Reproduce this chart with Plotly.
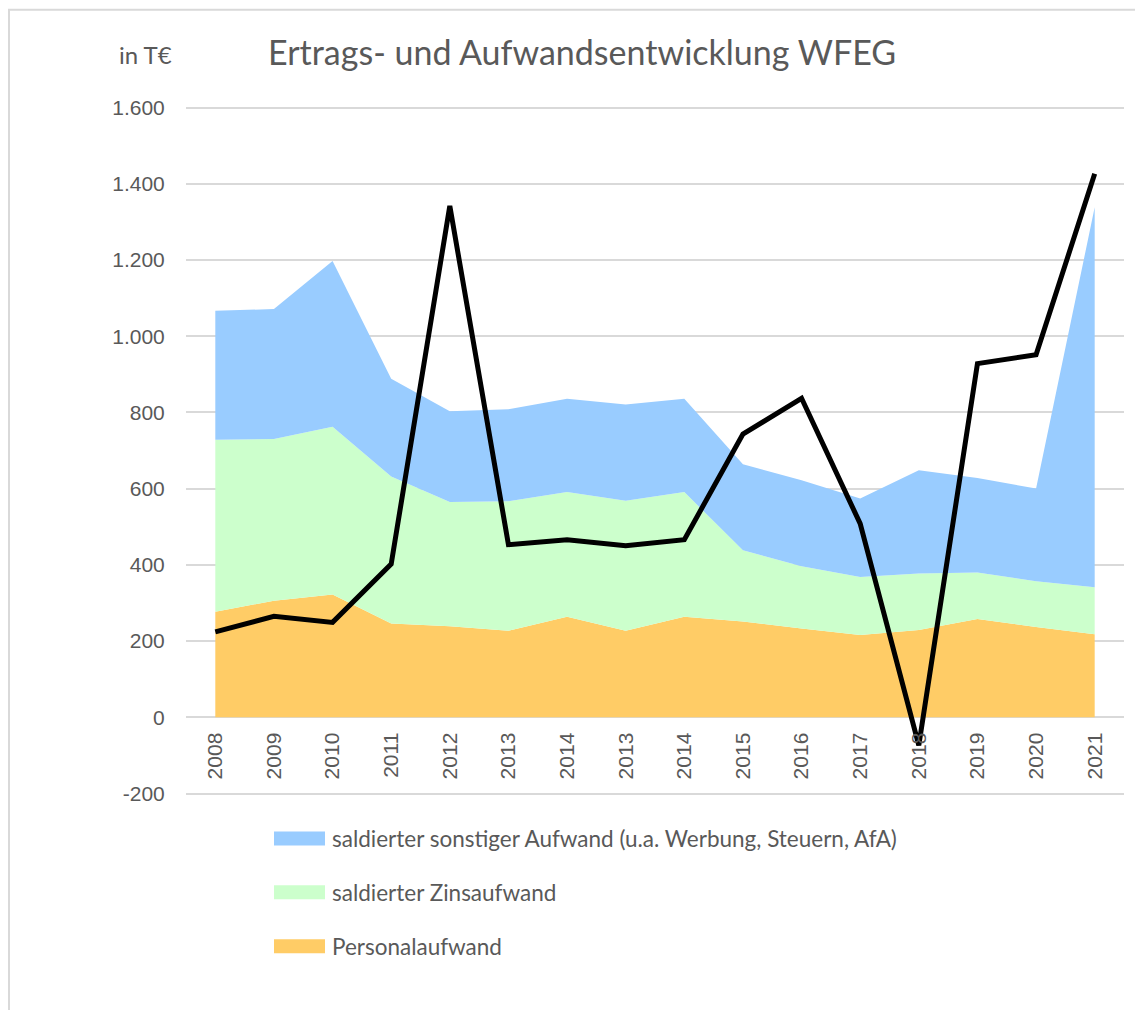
import plotly.graph_objects as go

# ---- data (T€) ----
years = ["2008", "2009", "2010", "2011", "2012", "2013", "2014", "2013",
         "2014", "2015", "2016", "2017", "2018", "2019", "2020", "2021"]
personal = [277, 306, 322, 246, 239, 227, 264, 227, 264, 251, 233, 216, 229, 258, 237, 218]
zins = [451, 424, 440, 386, 326, 340, 327, 341, 327, 187, 163, 152, 148, 122, 120, 123]
sonstige = [339, 341, 435, 256, 238, 241, 245, 253, 245, 226, 226, 206, 271, 248, 243, 997]
ertrag = [224, 265, 249, 402, 1342, 453, 466, 450, 466, 743, 837, 508, -74, 928, 951, 1426]

y_ticks = [-200, 0, 200, 400, 600, 800, 1000, 1200, 1400, 1600]
y_ticktext = ["-200", "0", "200", "400", "600", "800", "1.000", "1.200", "1.400", "1.600"]

series_names = ["Personalaufwand", "saldierter Zinsaufwand",
                "saldierter sonstiger Aufwand (u.a. Werbung, Steuern, AfA)"]
series_colors = ["#FFCC66", "#CCFFCC", "#99CCFF"]

# ---- layout constants (page pixels; the page body has an 8px margin) ----
OFF = 8
W, H = 1143 - OFF, 1010 - OFF
GT, GB = 107, 794            # pixel rows of the top (1.600) and bottom (-200) gridlines
PAD = 1.5                    # extra px so edge gridlines are not culled
PL, PR, PT, PB = 186, 1124, GT - PAD, GB + PAD
TXT = "#595959"
GRID = "#D9D9D9"
TICK_FONT = "Liberation Sans, Arial, sans-serif"
TEXT_FONT = "Lato, sans-serif"

x = list(range(len(years)))

fig = go.Figure()
for name, vals, col in zip(series_names, [personal, zins, sonstige], series_colors):
    fig.add_trace(go.Scatter(
        x=x, y=vals, name=name, mode="lines", stackgroup="cost",
        line=dict(width=0, color=col), fillcolor=col, showlegend=False,
        hoverinfo="x+y+name"))

fig.add_trace(go.Scatter(
    x=x, y=ertrag, name="Ertrag", mode="lines",
    line=dict(color="#000000", width=5), showlegend=False))

fig.update_layout(
    width=W, height=H,
    margin=dict(l=PL - OFF, r=W - (PR - OFF), t=PT - OFF, b=H - (PB - OFF), pad=0),
    paper_bgcolor="white", plot_bgcolor="white",
    font=dict(family=TICK_FONT, color=TXT),
    title=dict(text="Ertrags- und Aufwandsentwicklung WFEG",
               x=(268 - OFF) / W, xanchor="left", xref="container",
               y=1 - (53 - OFF) / H, yanchor="middle", yref="container",
               font=dict(family=TEXT_FONT, size=34, color=TXT)),
    showlegend=False,
)

lo, hi = y_ticks[0], y_ticks[-1]
eps = PAD * (hi - lo) / (GB - GT)
rlo, rhi = lo - eps, hi + eps
fig.update_xaxes(
    range=[-0.5, len(years) - 0.5],
    tickmode="array", tickvals=x, ticktext=years, tickangle=-90,
    tickfont=dict(size=21, color=TXT, family=TICK_FONT),
    showgrid=False, zeroline=False, showline=False,
    anchor="free", position=(0 - rlo) / (rhi - rlo),
    ticks="outside", ticklen=6, tickcolor="rgba(0,0,0,0)",
)
fig.update_yaxes(
    range=[rlo, rhi],
    tickmode="array", tickvals=y_ticks, ticktext=y_ticktext,
    tickfont=dict(size=21, color=TXT, family=TICK_FONT),
    showgrid=True, gridcolor=GRID, gridwidth=2,
    zeroline=False, showline=False,
    ticks="outside", ticklen=16, tickcolor="rgba(0,0,0,0)",
)


def px_x(v):
    return (v - PL) / (PR - PL)


def px_y(v):
    return (PB - v) / (PB - PT)


# unit label
fig.add_annotation(text="in T€", xref="paper", yref="paper",
                   x=px_x(145), y=px_y(54),
                   showarrow=False, xanchor="center", yanchor="middle",
                   font=dict(family=TEXT_FONT, size=24, color=TXT))

# outer chart border
fig.add_shape(type="rect", xref="paper", yref="paper",
              x0=px_x(OFF + 1), x1=px_x(1180), y0=px_y(1040), y1=px_y(OFF + 1),
              line=dict(color=GRID, width=2), fillcolor="rgba(0,0,0,0)", layer="below")

# legend (manual, top to bottom: reversed stack order)
leg_y = [839, 893, 947]
for yy, name, col in zip(leg_y, series_names[::-1], series_colors[::-1]):
    fig.add_shape(type="rect", xref="paper", yref="paper",
                  x0=px_x(274), x1=px_x(325), y0=px_y(yy + 7), y1=px_y(yy - 7),
                  line=dict(width=0), fillcolor=col)
    fig.add_annotation(text=name, xref="paper", yref="paper",
                       x=px_x(330), y=px_y(yy), xanchor="left", yanchor="middle",
                       showarrow=False,
                       font=dict(family=TEXT_FONT, size=22.5, color=TXT))

fig.write_html("out.html")
